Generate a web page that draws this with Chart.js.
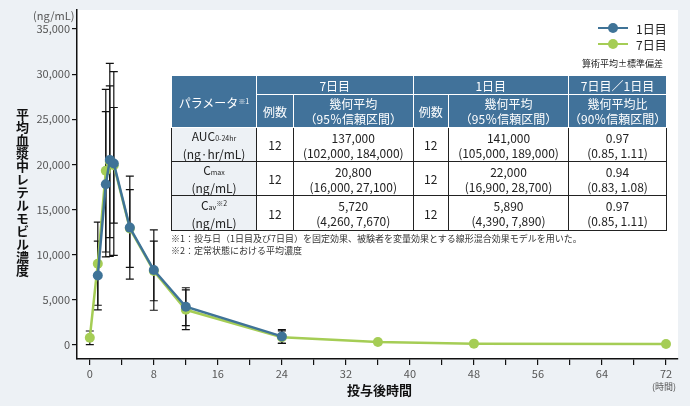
<!DOCTYPE html>
<html lang="ja">
<head>
<meta charset="UTF-8">
<title>平均血漿中レテルモビル濃度</title>
<script src="https://cdn.jsdelivr.net/npm/chart.js"></script>
<style>
    body {
        margin: 0;
        background-color: #edf1f5;
        font-family: 'Noto Sans CJK JP', sans-serif;
    }
    #wrap {
        position: relative;
        width: 690px;
        height: 406px;
    }
    #myChart {
        position: absolute;
        left: 0;
        top: 0;
    }
    .lbl {
        position: absolute;
        color: #333;
        white-space: nowrap;
    }
    #ytitle {
        left: 14px;
        top: 108px;
        writing-mode: vertical-rl;
        text-orientation: upright;
        font-size: 13px;
        font-weight: bold;
        line-height: 16px;
        color: #111;
    }
    #legend {
        position: absolute;
        left: 598px;
        top: 20px;
        font-size: 12px;
        color: #222;
    }
    .leg-row {
        display: flex;
        align-items: center;
        height: 16px;
    }
    .leg-line {
        position: relative;
        width: 30px;
        height: 2.5px;
        margin-right: 8px;
    }
    .leg-line span {
        position: absolute;
        left: 10px;
        top: -4px;
        width: 10px;
        height: 10px;
        border-radius: 50%;
    }
    #ptable {
        position: absolute;
        left: 171px;
        top: 75px;
        width: 495px;
        border-collapse: collapse;
        table-layout: fixed;
        border: 1.5px solid #222;
        font-size: 12px;
        text-align: center;
        color: #222;
    }
    #ptable th {
        background-color: #41729a;
        color: #fff;
        font-weight: normal;
        border: 1px solid #fff;
        padding: 0;
        line-height: 15px;
    }
    #ptable td {
        background-color: #fff;
        border: 1.2px solid #222;
        padding: 0;
        line-height: 15px;
        height: 33px;
    }
    #ptable td.first {
        background-color: #edf1f5;
    }
    .sm {
        font-size: 7px;
    }
    .sup {
        font-size: 7px;
        vertical-align: 4px;
    }
    .foot {
        font-size: 9px;
        color: #333;
    }
</style>
</head>
<body>
<div id="wrap">
    <canvas id="myChart" width="690" height="406"></canvas>

    <div class="lbl" style="left:33px; top:7px; font-size:11px; color:#555;">(ng/mL)</div>
    <div class="lbl" id="ytitle">平均血漿中レテルモビル濃度</div>
    <div class="lbl" style="left:347px; top:380px; font-size:13px; font-weight:bold; color:#111;">投与後時間</div>
    <div class="lbl" style="left:652px; top:380px; font-size:9px; color:#555;">(時間)</div>

    <div id="legend">
        <div class="leg-row"><div class="leg-line" style="background:#3f7397"><span style="background:#3f7397"></span></div>1日目</div>
        <div class="leg-row"><div class="leg-line" style="background:#a5cd55"><span style="background:#a5cd55"></span></div>7日目</div>
    </div>
    <div class="lbl" style="left:582px; top:57px; font-size:9px; color:#222;">算術平均±標準偏差</div>

    <table id="ptable">
        <colgroup>
            <col style="width:85px"><col style="width:37px"><col style="width:119.5px">
            <col style="width:35.5px"><col style="width:120px"><col style="width:98px">
        </colgroup>
        <tr style="height:19px">
            <th rowspan="2">パラメータ<span class="sup">※1</span></th>
            <th colspan="2">7日目</th>
            <th colspan="2">1日目</th>
            <th>7日目／1日目</th>
        </tr>
        <tr style="height:33px">
            <th>例数</th>
            <th>幾何平均<br>（95％信頼区間）</th>
            <th>例数</th>
            <th>幾何平均<br>（95％信頼区間）</th>
            <th>幾何平均比<br>（90％信頼区間）</th>
        </tr>
        <tr>
            <td class="first">AUC<span class="sm">0-24hr</span><br>(ng·hr/mL)</td>
            <td>12</td>
            <td>137,000<br>(102,000, 184,000)</td>
            <td>12</td>
            <td>141,000<br>(105,000, 189,000)</td>
            <td>0.97<br>(0.85, 1.11)</td>
        </tr>
        <tr>
            <td class="first">C<span class="sm">max</span><br>(ng/mL)</td>
            <td>12</td>
            <td>20,800<br>(16,000, 27,100)</td>
            <td>12</td>
            <td>22,000<br>(16,900, 28,700)</td>
            <td>0.94<br>(0.83, 1.08)</td>
        </tr>
        <tr>
            <td class="first">C<span class="sm">av</span><span class="sup">※2</span><br>(ng/mL)</td>
            <td>12</td>
            <td>5,720<br>(4,260, 7,670)</td>
            <td>12</td>
            <td>5,890<br>(4,390, 7,890)</td>
            <td>0.97<br>(0.85, 1.11)</td>
        </tr>
    </table>
    <div class="lbl foot" style="left:171px; top:232px;">※1：投与日（1日目及び7日目）を固定効果、被験者を変量効果とする線形混合効果モデルを用いた。</div>
    <div class="lbl foot" style="left:171px; top:244px;">※2：定常状態における平均濃度</div>
</div>

<script>
    // 1日目
    var hours1 = [1, 2, 2.5, 3, 5, 8, 12, 24];
    var mean1 = [7700, 17800, 20500, 20100, 13000, 8300, 4240, 950];
    var sd1 = [3800, 8050, 10700, 10170, 5700, 4450, 2100, 760];

    // 7日目
    var hours7 = [0, 1, 2, 2.5, 3, 5, 8, 12, 24, 36, 48, 72];
    var mean7 = [800, 9000, 19300, 20300, 19900, 12900, 8200, 3900, 870, 330, 150, 120];
    var sd7 = [750, 4600, 9000, 8400, 6400, 4300, 3300, 2200, 700, null, null, null];

    var yTicks = [0, 5000, 10000, 15000, 20000, 25000, 30000, 35000];
    var xTicks = [0, 4, 8, 12, 16, 20, 24, 28, 32, 36, 40, 44, 48, 52, 56, 60, 64, 68, 72];

    var blue = '#3f7397';
    var green = '#a5cd55';

    function toPoints(xs, ys, sds) {
        return xs.map(function (x, i) {
            return { x: x, y: ys[i], sd: sds[i] };
        });
    }

    // white plot area
    var plotBg = {
        id: 'plotBg',
        beforeDraw: function (chart) {
            var a = chart.chartArea;
            var c = chart.ctx;
            c.save();
            c.fillStyle = '#ffffff';
            c.fillRect(a.left, a.top, a.right - a.left, a.bottom - a.top);
            c.restore();
        }
    };

    // mean ± SD bars, drawn under the points
    var errorBars = {
        id: 'errorBars',
        beforeDatasetsDraw: function (chart) {
            var c = chart.ctx;
            var xs = chart.scales.x, ys = chart.scales.y;
            c.save();
            c.strokeStyle = '#111';
            c.lineWidth = 1.2;
            chart.data.datasets.forEach(function (ds) {
                ds.data.forEach(function (p) {
                    if (p.sd == null) return;
                    var px = xs.getPixelForValue(p.x);
                    var lo = ys.getPixelForValue(p.y - p.sd);
                    var hi = ys.getPixelForValue(p.y + p.sd);
                    c.beginPath();
                    c.moveTo(px, lo); c.lineTo(px, hi);
                    c.moveTo(px - 4, lo); c.lineTo(px + 4, lo);
                    c.moveTo(px - 4, hi); c.lineTo(px + 4, hi);
                    c.stroke();
                });
            });
            c.restore();
        }
    };

    Chart.defaults.font.family = "'Noto Sans CJK JP', sans-serif";

    var ctx = document.getElementById('myChart').getContext('2d');
    var myChart = new Chart(ctx, {
        type: 'line',
        data: {
            datasets: [{
                label: '1日目',
                data: toPoints(hours1, mean1, sd1),
                borderColor: blue,
                backgroundColor: blue,
                borderWidth: 2.5,
                pointRadius: 5,
                pointBorderWidth: 0,
                tension: 0
            }, {
                label: '7日目',
                data: toPoints(hours7, mean7, sd7),
                borderColor: green,
                backgroundColor: green,
                borderWidth: 2.5,
                pointRadius: 5,
                pointBorderWidth: 0,
                tension: 0
            }]
        },
        options: {
            responsive: false,
            animation: false,
            layout: { padding: { top: 10, right: 12, left: 0, bottom: 0 } },
            plugins: {
                legend: { display: false },
                tooltip: { enabled: false }
            },
            scales: {
                x: {
                    type: 'linear',
                    min: -1.6,
                    max: 73.5,
                    afterBuildTicks: function (s) {
                        s.ticks = xTicks.map(function (v) { return { value: v }; });
                    },
                    afterFit: function (s) { s.height = 47; },
                    ticks: {
                        autoSkip: false,
                        maxRotation: 0,
                        padding: 2,
                        color: '#555',
                        font: { size: 11 },
                        callback: function (v) { return v % 8 === 0 ? v : ''; }
                    },
                    grid: { drawOnChartArea: false, drawTicks: true, tickLength: 6, color: '#111', lineWidth: 1.2 },
                    border: { display: true, color: '#111', width: 1.5 }
                },
                y: {
                    min: -1550,
                    max: 37100,
                    afterBuildTicks: function (s) {
                        s.ticks = yTicks.map(function (v) { return { value: v }; });
                    },
                    afterFit: function (s) { s.width = 77; },
                    ticks: {
                        padding: 2,
                        color: '#555',
                        font: { size: 11 },
                        callback: function (v) { return v.toLocaleString('en-US'); }
                    },
                    grid: { drawOnChartArea: false, drawTicks: true, tickLength: 5, color: '#111', lineWidth: 1.2 },
                    border: { display: true, color: '#111', width: 1.5 }
                }
            }
        },
        plugins: [plotBg, errorBars]
    });
</script>
</body>
</html>
